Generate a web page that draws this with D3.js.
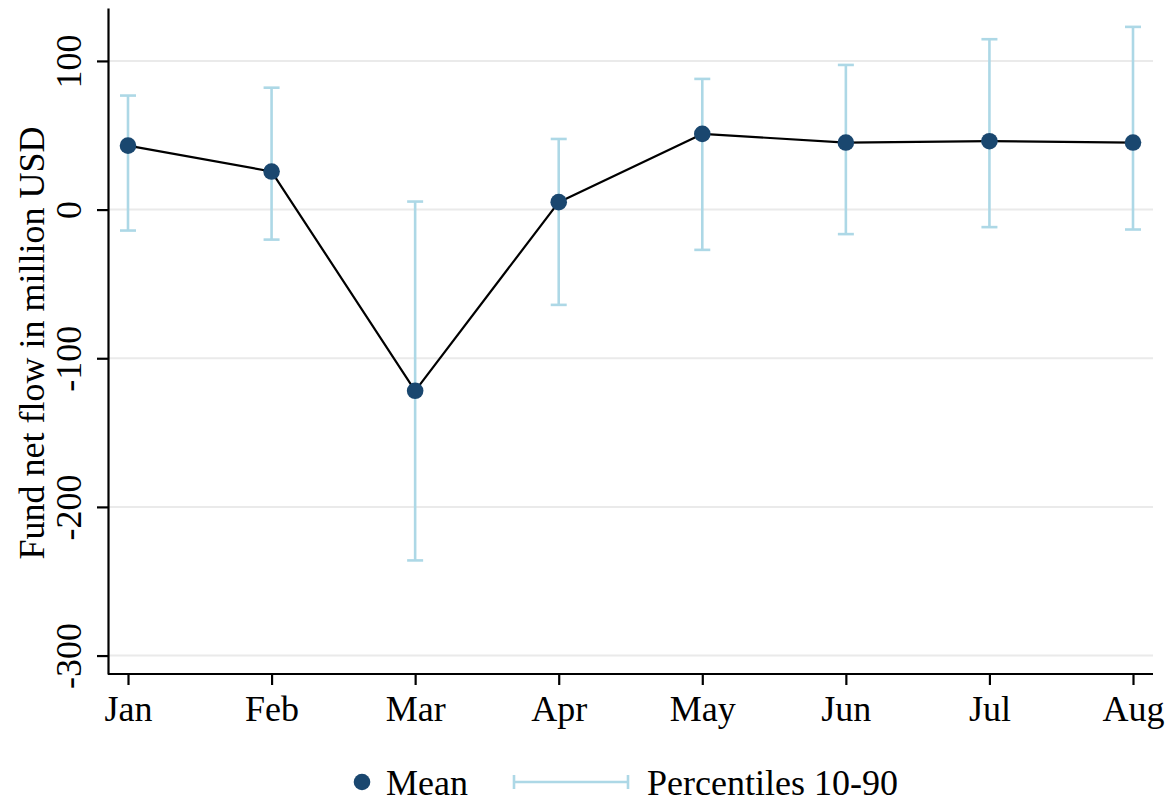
<!DOCTYPE html>
<html>
<head>
<meta charset="utf-8">
<script src="https://cdn.jsdelivr.net/npm/d3@7"></script>
<style>
  html, body { margin: 0; padding: 0; background: #fff; }
  svg { display: block; }
  text { font-family: "Liberation Serif", "Times New Roman", serif; fill: #000; }
</style>
</head>
<body>
<svg id="chart" width="1176" height="803"></svg>
<script>
// Monthly fund net flows (million USD): mean and 10th/90th percentiles
const months = ["Jan", "Feb", "Mar", "Apr", "May", "Jun", "Jul", "Aug"];
const meanFlow = [43.0, 25.6, -121.9, 5.0, 50.9, 45.1, 46.0, 45.1];
const p10Flow = [-14.1, -20.2, -236.0, -64.1, -27.1, -16.5, -11.8, -13.4];
const p90Flow = [76.7, 82.0, 5.4, 47.5, 87.9, 97.3, 114.6, 122.9];
const yTicks = [-300, -200, -100, 0, 100];
const yTitle = "Fund net flow in million USD";
const legendLabels = ["Mean", "Percentiles 10-90"];

const navy = "#1a476f";
const barColor = "#add8e6";
const fontSize = 36;

const svg = d3.select("#chart");

const plot = { left: 108, right: 1153, top: 8, bottom: 674 };

const x = d3.scalePoint().domain(months).range([128, 1133]);
const y = d3.scaleLinear().domain([-312.4, 135.6]).range([plot.bottom, plot.top]);

// horizontal grid lines
svg.append("g")
  .selectAll("line")
  .data(yTicks)
  .join("line")
  .attr("x1", plot.left).attr("x2", plot.right)
  .attr("y1", d => y(d)).attr("y2", d => y(d))
  .attr("stroke", "#eaeaea").attr("stroke-width", 2);

// percentile range bars
const rows = months.map((m, i) => ({ m, mean: meanFlow[i], lo: p10Flow[i], hi: p90Flow[i] }));
const bars = svg.append("g").attr("stroke", barColor).attr("stroke-width", 2.6).attr("fill", "none");
bars.selectAll(".stem").data(rows).join("line")
  .attr("x1", d => x(d.m)).attr("x2", d => x(d.m))
  .attr("y1", d => y(d.lo)).attr("y2", d => y(d.hi));
bars.selectAll(".capHi").data(rows).join("line")
  .attr("x1", d => x(d.m) - 8).attr("x2", d => x(d.m) + 8)
  .attr("y1", d => y(d.hi)).attr("y2", d => y(d.hi));
bars.selectAll(".capLo").data(rows).join("line")
  .attr("x1", d => x(d.m) - 8).attr("x2", d => x(d.m) + 8)
  .attr("y1", d => y(d.lo)).attr("y2", d => y(d.lo));

// mean line and markers
svg.append("path")
  .datum(rows)
  .attr("fill", "none").attr("stroke", "#000").attr("stroke-width", 2.2)
  .attr("stroke-linejoin", "round")
  .attr("d", d3.line().x(d => x(d.m)).y(d => y(d.mean)));
svg.append("g").selectAll("circle").data(rows).join("circle")
  .attr("cx", d => x(d.m)).attr("cy", d => y(d.mean)).attr("r", 8.3)
  .attr("fill", navy);

// y axis
const yAxis = svg.append("g")
  .attr("transform", `translate(${plot.left},0)`)
  .call(d3.axisLeft(y).tickValues(yTicks).tickSize(11).tickSizeOuter(0).tickFormat(d => String(d)));
yAxis.select(".domain").attr("stroke", "#000").attr("stroke-width", 2.2);
yAxis.selectAll(".tick line").attr("stroke", "#000").attr("stroke-width", 2.2);
yAxis.selectAll(".tick text")
  .attr("font-size", fontSize)
  .attr("font-family", "Liberation Serif, serif")
  .attr("text-anchor", "middle")
  .attr("x", null).attr("dy", null)
  .attr("transform", "translate(-27,0) rotate(-90)");

// x axis
const xAxis = svg.append("g")
  .attr("transform", `translate(0,${plot.bottom})`)
  .call(d3.axisBottom(x).tickSize(11).tickSizeOuter(0));
xAxis.select(".domain").attr("d", `M${plot.left},0H${plot.right}`)
  .attr("stroke", "#000").attr("stroke-width", 2.2);
xAxis.selectAll(".tick line").attr("stroke", "#000").attr("stroke-width", 2.2);
xAxis.selectAll(".tick text")
  .attr("font-size", fontSize)
  .attr("font-family", "Liberation Serif, serif")
  .attr("y", 47).attr("dy", null);

// axis title
svg.append("text")
  .attr("transform", "translate(44,343) rotate(-90)")
  .attr("text-anchor", "middle")
  .attr("font-size", fontSize)
  .text(yTitle);

// legend
const lg = svg.append("g");
lg.append("circle").attr("cx", 362).attr("cy", 782).attr("r", 8.3).attr("fill", navy);
lg.append("text").attr("x", 386).attr("y", 795).attr("font-size", fontSize).text(legendLabels[0]);
lg.append("line").attr("x1", 514).attr("x2", 628).attr("y1", 782).attr("y2", 782)
  .attr("stroke", barColor).attr("stroke-width", 2.6);
lg.append("line").attr("x1", 514).attr("x2", 514).attr("y1", 775).attr("y2", 789)
  .attr("stroke", barColor).attr("stroke-width", 2.6);
lg.append("line").attr("x1", 628).attr("x2", 628).attr("y1", 775).attr("y2", 789)
  .attr("stroke", barColor).attr("stroke-width", 2.6);
lg.append("text").attr("x", 647).attr("y", 795).attr("font-size", fontSize).text(legendLabels[1]);
</script>
</body>
</html>
